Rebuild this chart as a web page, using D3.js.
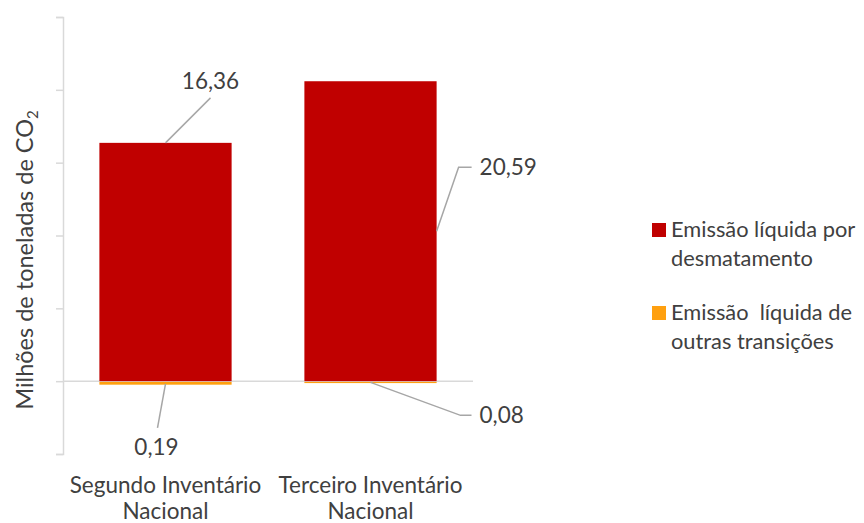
<!DOCTYPE html>
<html>
<head>
<meta charset="utf-8">
<script src="https://cdn.jsdelivr.net/npm/d3@7"></script>
<style>
  html, body { margin: 0; padding: 0; background: #fff; }
  svg { display: block; font-family: Lato, "Open Sans", sans-serif; }
</style>
</head>
<body>
<svg id="chart" width="864" height="523"></svg>
<script>
// Net CO2 emissions (million tonnes), by national inventory
const categories = [["Segundo Inventário", "Nacional"], ["Terceiro Inventário", "Nacional"]];
const desmatamento = [16.36, 20.59];
const outrasTransicoes = [-0.19, -0.08];
const yTicks = [-5, 0, 5, 10, 15, 20, 25];
const seriesNames = [["Emissão líquida por", "desmatamento"], ["Emissão  líquida de", "outras transições"]];

const colors = { red: "#C00000", orange: "#FFA00F", text: "#404040", axis: "#D9D9D9", leader: "#A6A6A6" };
const fontSize = 22.5;

const svg = d3.select("#chart");
const catKeys = categories.map(c => c.join(" "));

const x = d3.scaleBand().domain(catKeys).range([63, 473]).paddingInner(0.355).paddingOuter(0.1775);
const y = d3.scaleLinear().domain([-5, 25]).range([454, 17]);

// y axis: ticks only, no labels
const yAxis = d3.axisLeft(y).tickValues(yTicks).tickSize(7).tickFormat("");
const gy = svg.append("g").attr("transform", "translate(63,0)").call(yAxis);
gy.select(".domain").attr("stroke", colors.axis).attr("stroke-width", 1.5);
gy.selectAll(".tick line").attr("stroke", colors.axis).attr("stroke-width", 1.5);

// zero baseline
svg.append("line")
  .attr("x1", 63).attr("x2", 473)
  .attr("y1", y(0)).attr("y2", y(0))
  .attr("stroke", colors.axis).attr("stroke-width", 1.5);

// bars: deforestation stack above zero
svg.append("g").selectAll("rect").data(desmatamento).join("rect")
  .attr("x", (d, i) => x(catKeys[i]))
  .attr("width", x.bandwidth())
  .attr("y", d => y(d))
  .attr("height", d => y(0) - y(d))
  .attr("fill", colors.red);

// other transitions stack below zero
svg.append("g").selectAll("rect").data(outrasTransicoes).join("rect")
  .attr("x", (d, i) => x(catKeys[i]))
  .attr("width", x.bandwidth())
  .attr("y", d => y(Math.max(0, d)) + 0.75)
  .attr("height", d => Math.abs(y(d) - y(0)))
  .attr("fill", colors.orange);

// data labels with leader lines
const fmt = v => d3.format(".2f")(Math.abs(v)).replace(".", ",");
const labels = [
  { v: desmatamento[0], ax: x(catKeys[0]) + x.bandwidth() / 2, ay: y(desmatamento[0]),
    path: [[0, 0], [45, -45]], tx: 45, ty: -62, anchor: "middle" },
  { v: desmatamento[1], ax: x(catKeys[1]) + x.bandwidth(), ay: y(desmatamento[1] * 0.5),
    path: [[0, 0], [22, -64], [35, -64]], tx: 43, ty: -64, anchor: "start" },
  { v: outrasTransicoes[0], ax: x(catKeys[0]) + x.bandwidth() / 2, ay: y(outrasTransicoes[0]),
    path: [[0, 0], [-8, 44]], tx: -9, ty: 63, anchor: "middle" },
  { v: outrasTransicoes[1], ax: x(catKeys[1]) + x.bandwidth() / 2, ay: y(outrasTransicoes[1]),
    path: [[0, 0], [90, 33], [101, 33]], tx: 109, ty: 33, anchor: "start" }
];
const gl = svg.append("g");
labels.forEach(l => {
  gl.append("path")
    .attr("d", d3.line()(l.path.map(p => [l.ax + p[0], l.ay + p[1]])))
    .attr("fill", "none").attr("stroke", colors.leader).attr("stroke-width", 1.5);
  gl.append("text")
    .attr("x", l.ax + l.tx).attr("y", l.ay + l.ty)
    .attr("dy", "0.35em")
    .attr("text-anchor", l.anchor)
    .attr("font-size", fontSize).attr("fill", colors.text)
    .text(fmt(l.v));
});

// category labels
const gx = svg.append("g");
categories.forEach((c, i) => {
  const t = gx.append("text")
    .attr("x", x(catKeys[i]) + x.bandwidth() / 2)
    .attr("y", 493)
    .attr("text-anchor", "middle")
    .attr("font-size", fontSize).attr("fill", colors.text);
  c.forEach((line, j) => t.append("tspan")
    .attr("x", x(catKeys[i]) + x.bandwidth() / 2)
    .attr("dy", j === 0 ? 0 : 26)
    .text(line));
});

// y axis title
const title = svg.append("text")
  .attr("transform", "translate(33,260) rotate(-90)")
  .attr("text-anchor", "middle")
  .attr("font-size", 23.5).attr("fill", colors.text);
title.append("tspan").text("Milhões de toneladas de CO");
title.append("tspan").attr("font-size", 15).attr("dy", 5).text("2");

// legend
const legend = svg.append("g");
const legendColors = [colors.red, colors.orange];
const legendY = [223, 306];
seriesNames.forEach((lines, i) => {
  legend.append("rect")
    .attr("x", 652).attr("y", legendY[i])
    .attr("width", 14).attr("height", 14)
    .attr("fill", legendColors[i]);
  const t = legend.append("text")
    .attr("x", 671).attr("y", legendY[i] + 14)
    .attr("font-size", 21.8).attr("fill", colors.text)
    .style("white-space", "pre");
  lines.forEach((line, j) => t.append("tspan")
    .attr("x", 671).attr("dy", j === 0 ? 0 : 29)
    .text(line));
});
</script>
</body>
</html>
